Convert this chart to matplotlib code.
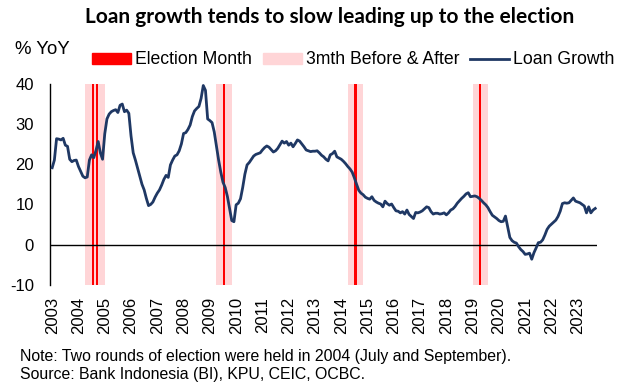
import matplotlib
matplotlib.use("Agg")
import matplotlib.pyplot as plt
from matplotlib.patches import Patch
from matplotlib.lines import Line2D

plt.rcParams['font.family'] = ['Liberation Sans', 'DejaVu Sans']
plt.rcParams['axes.unicode_minus'] = False

# Monthly loan growth (% YoY), Jan 2003 - Sep 2023
loan_2003 = [19.1, 21.0, 26.3, 26.2, 26.0, 26.4, 24.7, 24.4, 21.2, 20.6, 20.9, 21.0]
loan_2004 = [19.4, 18.2, 17.0, 16.6, 16.8, 21.0, 22.3, 21.6, 23.4, 25.6, 22.8, 21.2]
loan_2005 = [27.5, 31.2, 32.4, 33.0, 33.3, 33.5, 32.8, 34.6, 34.9, 33.0, 33.4, 32.6]
loan_2006 = [27.0, 22.8, 21.0, 19.0, 17.0, 15.0, 13.6, 11.5, 9.7, 10.0, 10.6, 11.8]
loan_2007 = [12.8, 13.6, 14.8, 16.2, 17.2, 16.7, 19.8, 21.0, 22.0, 22.3, 23.3, 25.0]
loan_2008 = [27.6, 27.8, 28.6, 29.7, 31.8, 33.2, 33.8, 34.3, 36.3, 39.5, 38.3, 31.2]
loan_2009 = [30.8, 30.3, 28.0, 24.5, 21.0, 18.0, 15.5, 14.2, 12.0, 9.0, 6.0, 5.7]
loan_2010 = [9.9, 10.3, 11.4, 14.2, 17.5, 19.8, 20.4, 21.2, 22.0, 22.4, 22.6, 22.8]
loan_2011 = [23.5, 24.1, 24.5, 24.2, 23.6, 23.0, 23.3, 23.9, 24.8, 25.7, 25.2, 25.6]
loan_2012 = [24.7, 25.2, 24.3, 25.1, 26.0, 25.7, 25.0, 24.3, 23.5, 23.3, 23.1, 23.2]
loan_2013 = [23.2, 23.3, 22.8, 22.2, 21.8, 21.2, 20.8, 22.3, 22.6, 23.2, 21.8, 21.5]
loan_2014 = [21.2, 20.7, 20.1, 19.4, 18.8, 18.0, 16.6, 15.0, 13.5, 12.8, 12.4, 11.8]
loan_2015 = [11.5, 11.3, 11.9, 11.0, 10.6, 10.3, 10.1, 9.4, 10.8, 10.2, 9.8, 10.1]
loan_2016 = [9.2, 8.4, 8.3, 7.9, 8.2, 7.6, 8.6, 7.5, 7.0, 6.5, 8.0, 7.9]
loan_2017 = [8.1, 8.4, 8.9, 9.4, 9.2, 8.2, 7.6, 7.8, 7.8, 7.6, 7.7, 7.9]
loan_2018 = [7.4, 7.9, 8.6, 8.9, 9.5, 10.3, 10.9, 11.5, 12.0, 12.6, 12.9, 11.9]
loan_2019 = [12.0, 12.1, 11.9, 11.5, 11.0, 10.4, 9.9, 9.2, 8.2, 7.3, 6.9, 6.5]
loan_2020 = [6.0, 5.7, 5.8, 7.1, 4.5, 1.8, 1.0, 0.6, 0.4, -0.5, -1.2, -1.7]
loan_2021 = [-2.4, -2.3, -2.1, -3.6, -2.0, -0.8, 0.5, 0.6, 1.2, 2.4, 3.8, 4.6]
loan_2022 = [5.1, 5.6, 6.1, 7.0, 8.3, 10.2, 10.4, 10.3, 10.4, 11.0, 11.6, 10.8]
loan_2023 = [10.6, 10.4, 10.0, 9.6, 7.9, 9.4, 7.9, 8.6, 9.0]

loan_growth = (loan_2003 + loan_2004 + loan_2005 + loan_2006 + loan_2007 + loan_2008 +
               loan_2009 + loan_2010 + loan_2011 + loan_2012 + loan_2013 + loan_2014 +
               loan_2015 + loan_2016 + loan_2017 + loan_2018 + loan_2019 + loan_2020 +
               loan_2021 + loan_2022 + loan_2023)
start_year = 2003

# Election months (year, month)
elections = [(2004, 7), (2004, 9), (2009, 7), (2014, 7), (2019, 4)]
window = 3

year_labels = [str(y) for y in range(2003, 2024)]

NAVY = '#1F3864'
RED = '#FF0000'
PINK = '#FFD5D7'

W, H = 617, 385
fig = plt.figure(figsize=(W / 100, H / 100), dpi=100)
ax = fig.add_axes([50 / W, (H - 285) / H, (597 - 50) / W, (285 - 83.5) / H])

months = list(range(len(loan_growth)))
ymin, ymax = -10, 40

# shaded windows
band = set()
elec_idx = []
for (yy, mm) in elections:
    i = (yy - start_year) * 12 + (mm - 1)
    elec_idx.append(i)
    for k in range(i - window, i + window + 1):
        band.add(k)
band = sorted(band)
ax.bar(band, [ymax - ymin] * len(band), bottom=ymin, width=1.0, align='edge',
       color=PINK, linewidth=0, zorder=1)
ax.bar(elec_idx, [ymax - ymin] * len(elec_idx), bottom=ymin, width=1.0, align='edge',
       color=RED, linewidth=0, zorder=2)

ax.axhline(0, color='black', linewidth=1.0, zorder=3)
ax.plot(months, loan_growth, color=NAVY, linewidth=2.0, zorder=4, solid_joinstyle='round')

ax.set_xlim(-1, 248.8)
ax.set_ylim(ymin, ymax)
ax.set_yticks(range(-10, 41, 10))
ax.set_xticks([12 * i for i in range(len(year_labels))])
ax.set_xticklabels(year_labels, rotation=90)
ax.tick_params(axis='both', length=0, labelsize=12)
ax.tick_params(axis='x', pad=8.6)
ax.tick_params(axis='y', pad=11.5)
for s in ['top', 'right', 'bottom']:
    ax.spines[s].set_visible(False)
ax.spines['left'].set_linewidth(1.0)

fig.text(330 / W, 1 - 17 / H, 'Loan growth tends to slow leading up to the election',
         ha='center', va='center', fontsize=15, fontweight='bold', family=['Lato', 'DejaVu Sans'])
fig.text(15 / W, 1 - 49 / H, '% YoY', ha='left', va='center', fontsize=13.4)

handles = [Patch(color=RED, label='Election Month'),
           Patch(color=PINK, label='3mth Before & After'),
           Line2D([0], [0], color=NAVY, linewidth=2.0, label='Loan Growth')]
fig.legend(handles=handles, loc='center left', bbox_to_anchor=(92 / W, 1 - 60 / H), ncol=3,
           frameon=False, fontsize=12.7, handlelength=2.2, handleheight=0.57,
           handletextpad=0.23, columnspacing=0.63, borderpad=0, borderaxespad=0)

fig.text(20 / W, 1 - 356 / H,
         'Note: Two rounds of election were held in 2004 (July and September).',
         ha='left', va='center', fontsize=11.4)
fig.text(20 / W, 1 - 375 / H, 'Source: Bank Indonesia (BI), KPU, CEIC, OCBC.',
         ha='left', va='center', fontsize=11.4)

fig.savefig('out.png', dpi=100)
